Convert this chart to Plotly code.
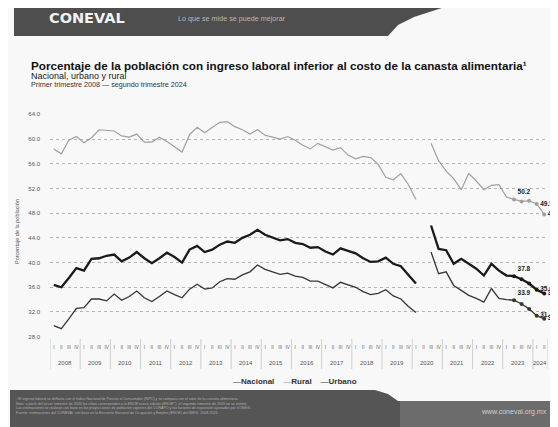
import plotly.graph_objects as go

# ---------------- data ----------------
quarters = ["I", "II", "III", "IV"]
years = list(range(2008, 2025))

nacional = [36.4, 36.0, 37.5, 39.1, 38.7, 40.6, 40.7, 41.1, 41.3, 40.2, 40.8, 41.7,
            40.7, 39.9, 40.7, 41.6, 40.9, 40.0, 42.1, 42.7, 41.7, 42.1, 42.9, 43.4,
            43.2, 44.0, 44.5, 45.3, 44.5, 44.0, 43.6, 43.8, 43.2, 43.0, 42.4, 42.5,
            41.8, 41.3, 42.3, 41.9, 41.5, 40.7, 40.1, 40.2, 40.8, 39.8, 39.4, 38.0,
            36.6, None, 46.0, 42.2, 42.0, 39.8, 40.6, 39.8, 39.0, 37.9, 39.8, 38.7,
            37.9, 37.8, 37.3, 36.6, 35.6, 35.0]

urbano = [29.8, 29.3, 30.9, 32.6, 32.7, 34.1, 34.1, 33.8, 34.9, 33.9, 34.5, 35.4,
          34.3, 33.7, 34.5, 35.4, 34.8, 34.3, 35.7, 36.5, 35.7, 35.9, 36.9, 37.4,
          37.3, 38.0, 38.5, 39.6, 38.9, 38.5, 38.1, 38.3, 37.8, 37.6, 37.0, 37.0,
          36.4, 35.9, 36.8, 36.4, 36.0, 35.3, 34.8, 35.0, 35.6, 34.6, 34.1, 32.9,
          31.9, None, 41.7, 38.2, 38.5, 36.3, 35.5, 34.7, 34.2, 33.6, 35.8, 34.2,
          34.0, 33.9, 33.3, 32.5, 31.4, 30.9]

rural = [58.4, 57.6, 59.8, 60.4, 59.4, 60.2, 61.5, 61.4, 61.3, 60.5, 60.3, 60.8,
         59.5, 59.5, 60.3, 59.6, 58.8, 57.9, 60.7, 61.9, 61.0, 61.9, 62.7, 62.8,
         62.0, 61.5, 60.8, 61.5, 60.6, 60.3, 60.0, 60.4, 59.8, 59.0, 58.4, 59.3,
         58.8, 58.2, 58.6, 57.4, 56.8, 57.2, 57.0, 55.9, 53.8, 53.4, 54.4, 52.6,
         50.2, None, 59.3, 56.5, 54.8, 53.6, 51.8, 54.4, 53.2, 51.8, 52.5, 52.6,
         50.6, 50.2, 49.9, 50.0, 49.5, 47.8]

y_ticks = [28, 32, 36, 40, 44, 48, 52, 56, 60, 64]
marked = [61, 62, 63, 64, 65]
labelled = [61, 64, 65]

# ---------------- geometry helpers ----------------
# the page adds an 8px body margin, so figure coords = screen coords - 8
OFF = 8
FW, FH = 558, 427
L, R, T, B = 50 - OFF, 548 - OFF, 114 - OFF, 337 - OFF
PW, PH = R - L, B - T


def px(x):
    return (x - OFF - L) / PW


def py(y):
    return (B - (y - OFF)) / PH


FONT = "Liberation Sans"
n = len(nacional)
xs = list(range(n))

fig = go.Figure()

series = [
    ("Nacional", nacional, "#1a1a1a", 2.3),
    ("Rural", rural, "#a0a0a0", 1.2),
    ("Urbano", urbano, "#363636", 1.3),
]

for name, vals, color, w in series:
    fig.add_trace(go.Scatter(
        x=xs, y=vals, mode="lines", name=name,
        line=dict(color=color, width=w),
        connectgaps=False, showlegend=False, hoverinfo="skip"))
    fig.add_trace(go.Scatter(
        x=marked, y=[vals[i] for i in marked], mode="markers+text",
        marker=dict(size=4, color=color),
        text=[f"<b>{vals[i]:.1f}</b>" if i in labelled else "" for i in marked],
        textposition=["top right", "middle right", "middle right",
                      "middle right", "middle right"],
        textfont=dict(size=6.5, color="#222", family=FONT),
        cliponaxis=False, showlegend=False, hoverinfo="skip"))

shapes = []
annotations = []

# year separators in the axis area
for k in range(len(years) + 1):
    xv = min(4 * k - 0.5, n - 0.5)
    shapes.append(dict(type="line", xref="x", yref="paper",
                       x0=xv, x1=xv, y0=py(339), y1=py(369),
                       line=dict(color="#c4c4c4", width=0.8)))

# year labels
for k, yr in enumerate(years):
    last = min(4 * k + 3, n - 1)
    xc = (4 * k + last) / 2
    annotations.append(dict(xref="x", yref="paper", x=xc, y=py(362.5),
                            xanchor="center", yanchor="middle",
                            text=str(yr), showarrow=False,
                            font=dict(size=6, color="#555", family=FONT)))

# header band
hdr = [(14, 6), (448, 6), (414, 17), (398, 25), (388, 36), (14, 36)]
path = "M " + " L ".join(f"{px(a):.4f},{py(b):.4f}" for a, b in hdr) + " Z"
shapes.append(dict(type="path", xref="paper", yref="paper", path=path,
                   fillcolor="#4e4e4e", line=dict(width=0), layer="above"))

annotations.append(dict(xref="paper", yref="paper", x=px(47), y=py(18),
                        xanchor="left", yanchor="middle", showarrow=False,
                        text="<b>CONEVAL</b>",
                        font=dict(size=14.5, color="#f2f2f2", family="DejaVu Sans")))
annotations.append(dict(xref="paper", yref="paper", x=px(176), y=py(18),
                        xanchor="left", yanchor="middle", showarrow=False,
                        text="Lo que se mide se puede mejorar",
                        font=dict(size=7.2, color="#b8b8b8", family=FONT)))

# titles
annotations.append(dict(xref="paper", yref="paper", x=px(29), y=py(65),
                        xanchor="left", yanchor="middle", showarrow=False,
                        text="<b>Porcentaje de la población con ingreso laboral inferior al costo de la canasta alimentaria¹</b>",
                        font=dict(size=11.7, color="#111", family=FONT)))
annotations.append(dict(xref="paper", yref="paper", x=px(29), y=py(75.5),
                        xanchor="left", yanchor="middle", showarrow=False,
                        text="Nacional, urbano y rural",
                        font=dict(size=9, color="#222", family=FONT)))
annotations.append(dict(xref="paper", yref="paper", x=px(29), y=py(84.5),
                        xanchor="left", yanchor="middle", showarrow=False,
                        text="Primer trimestre 2008 \u2014 segundo trimestre 2024",
                        font=dict(size=7.2, color="#333", family=FONT)))

# y-axis title
annotations.append(dict(xref="paper", yref="paper", x=px(17), y=py(232),
                        xanchor="center", yanchor="middle",
                        showarrow=False, textangle=-90,
                        text="Porcentaje de la población",
                        font=dict(size=5.5, color="#555", family=FONT)))

# legend
annotations.append(dict(
    xref="paper", yref="paper", x=px(295), y=py(381), showarrow=False,
    xanchor="center", yanchor="middle",
    text=("<span style='color:#1a1a1a'>\u2014</span><b>Nacional</b>    "
          "<span style='color:#9a9a9a'>\u2014</span><b>Rural</b>    "
          "<span style='color:#363636'>\u2014</span><b>Urbano</b>"),
    font=dict(size=8, color="#333", family=FONT)))

# footer bands
ftr = [(10, 390), (375, 390), (388, 394), (398, 401), (560, 401), (560, 430), (10, 430)]
path = "M " + " L ".join(f"{px(a):.4f},{py(b):.4f}" for a, b in ftr) + " Z"
shapes.append(dict(type="path", xref="paper", yref="paper", path=path,
                   fillcolor="#555555", line=dict(width=0), layer="above"))
shapes.append(dict(type="rect", xref="paper", yref="paper",
                   x0=px(400), x1=px(560), y0=py(430), y1=py(401),
                   fillcolor="#6c6c6c", line=dict(width=0), layer="above"))

notes = ("¹ El ingreso laboral se deflacta con el Índice Nacional de Precios al Consumidor (INPC) y se compara con el valor de la canasta alimentaria.<br>"
         "Nota: a partir del tercer trimestre de 2020 las cifras corresponden a la ENOE nueva edición (ENOE<sup>N</sup>); el segundo trimestre de 2020 no se estimó.<br>"
         "Las estimaciones se realizan con base en las proyecciones de población vigentes del CONAPO y los factores de expansión ajustados por el INEGI.<br>"
         "Fuente: estimaciones del CONEVAL con base en la Encuesta Nacional de Ocupación y Empleo (ENOE) del INEGI, 2008-2024.")
annotations.append(dict(xref="paper", yref="paper", x=px(14), y=py(406),
                        xanchor="left", yanchor="middle", align="left",
                        showarrow=False, text=notes,
                        font=dict(size=3.6, color="#b0b0b0", family=FONT)))
annotations.append(dict(xref="paper", yref="paper", x=px(514), y=py(412),
                        xanchor="center", yanchor="middle",
                        showarrow=False, text="www.coneval.org.mx",
                        font=dict(size=7, color="#cfcfcf", family=FONT)))

fig.update_layout(
    width=FW, height=FH,
    margin=dict(l=L, r=FW - R, t=T, b=FH - B, autoexpand=False),
    paper_bgcolor="#f8f8f8", plot_bgcolor="#f8f8f8",
    showlegend=False,
    shapes=shapes, annotations=annotations,
    xaxis=dict(range=[-0.5, n - 0.5], tickmode="array", tickvals=xs,
               ticktext=[quarters[i % 4] for i in xs], ticks="",
               tickfont=dict(size=4.6, color="#666", family=FONT),
               ticklabelstandoff=6, showgrid=False, zeroline=False,
               showline=False, automargin=False, tickangle=0),
    yaxis=dict(range=[27.95, 64.05], tickmode="array", tickvals=y_ticks,
               ticktext=[f"{v:.1f}" for v in y_ticks], ticks="",
               tickfont=dict(size=6, color="#555", family=FONT),
               ticklabelstandoff=9, showgrid=True, gridcolor="#b5b5b5",
               griddash="dot", gridwidth=0.8, zeroline=False,
               showline=False, automargin=False),
)

fig.write_html("out.html")
